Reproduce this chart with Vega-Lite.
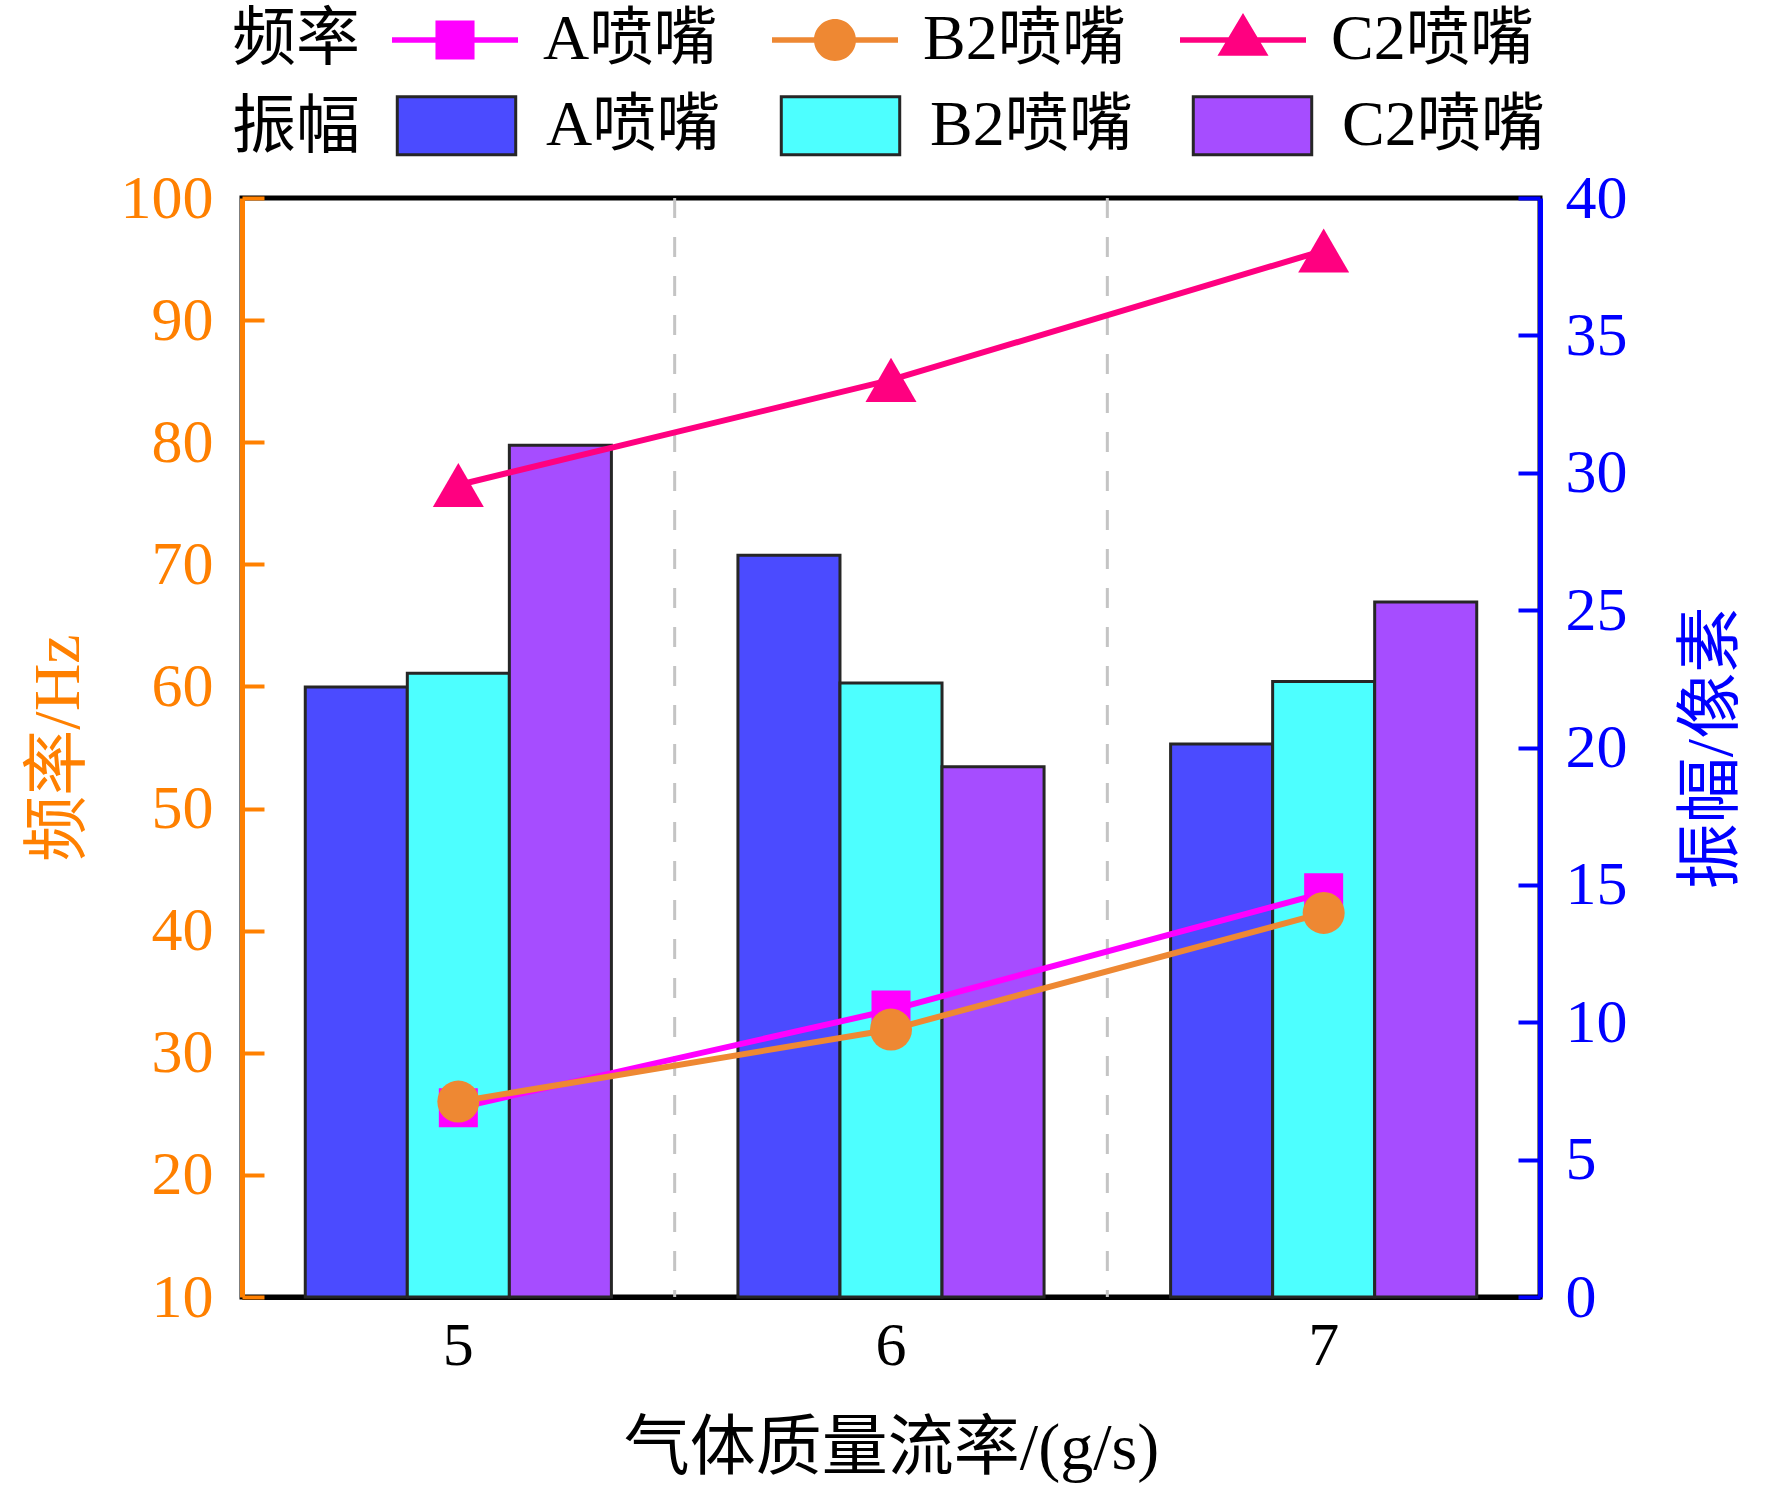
{
  "$schema": "https://vega.github.io/schema/vega-lite/v6.json",
  "width": 1298,
  "height": 1099,
  "autosize": {"type": "none"},
  "padding": {"left": 242, "top": 198, "right": 232, "bottom": 194},
  "background": "#ffffff",
  "config": {
    "font": "Liberation Serif, Noto Sans CJK SC",
    "view": {"stroke": "#000000", "strokeWidth": 5},
    "axis": {
      "grid": false,
      "zindex": 1,
      "labelFont": "Liberation Serif, Noto Sans CJK SC",
      "titleFont": "Liberation Serif, Noto Sans CJK SC",
      "labelFontSize": 62,
      "titleFontSize": 66,
      "titleFontWeight": "normal",
      "domainWidth": 5,
      "tickWidth": 4,
      "labelFlush": false,
      "labelOverlap": false
    },
    "legend": {
      "labelFont": "Liberation Serif, Noto Sans CJK SC",
      "titleFont": "Liberation Serif, Noto Sans CJK SC",
      "labelFontSize": 64,
      "titleFontSize": 64,
      "titleFontWeight": "normal",
      "labelColor": "#000000",
      "titleColor": "#000000",
      "padding": 0,
      "labelLimit": 0,
      "titleLimit": 0
    }
  },
  "datasets": {
    "bounds": [{"x": "6"}, {"x": "7"}],
    "bars": [
      {"x": "5", "s": "A喷嘴", "amp": 22.2},
      {"x": "5", "s": "B2喷嘴", "amp": 22.7},
      {"x": "5", "s": "C2喷嘴", "amp": 31.0},
      {"x": "6", "s": "A喷嘴", "amp": 27.0},
      {"x": "6", "s": "B2喷嘴", "amp": 22.35},
      {"x": "6", "s": "C2喷嘴", "amp": 19.3},
      {"x": "7", "s": "A喷嘴", "amp": 20.13},
      {"x": "7", "s": "B2喷嘴", "amp": 22.4},
      {"x": "7", "s": "C2喷嘴", "amp": 25.3}
    ],
    "freq": [
      {"x": "5", "s": "A喷嘴", "freq": 25.5},
      {"x": "6", "s": "A喷嘴", "freq": 33.5},
      {"x": "7", "s": "A喷嘴", "freq": 43.1},
      {"x": "5", "s": "B2喷嘴", "freq": 26.0},
      {"x": "6", "s": "B2喷嘴", "freq": 31.9},
      {"x": "7", "s": "B2喷嘴", "freq": 41.45},
      {"x": "5", "s": "C2喷嘴", "freq": 76.5},
      {"x": "6", "s": "C2喷嘴", "freq": 85.1},
      {"x": "7", "s": "C2喷嘴", "freq": 95.7}
    ]
  },
  "layer": [
    {
      "data": {"name": "bounds"},
      "mark": {"type": "rule", "color": "#C4C4C4", "strokeWidth": 3, "strokeDash": [20, 19]},
      "encoding": {
        "x": {
          "field": "x",
          "type": "ordinal",
          "bandPosition": 0,
          "scale": {"domain": ["5", "6", "7"], "paddingInner": 0, "paddingOuter": 0},
          "axis": {
            "title": "气体质量流率/(g/s)",
            "labelAngle": 0,
            "tickSize": -21,
            "tickWidth": 3,
            "labelPadding": 39,
            "titlePadding": 40,
            "domainColor": "#000000",
            "tickColor": "#000000",
            "labelColor": "#000000",
            "titleColor": "#000000"
          }
        }
      }
    },
    {
      "data": {"name": "bars"},
      "mark": {"type": "bar", "stroke": "#262626", "strokeWidth": 3},
      "encoding": {
        "x": {
          "field": "x",
          "type": "ordinal",
          "scale": {"domain": ["5", "6", "7"], "paddingInner": 0, "paddingOuter": 0},
          "axis": {
            "title": "气体质量流率/(g/s)",
            "labelAngle": 0,
            "tickSize": -21,
            "tickWidth": 3,
            "labelPadding": 39,
            "titlePadding": 40,
            "domainColor": "#000000",
            "tickColor": "#000000",
            "labelColor": "#000000",
            "titleColor": "#000000"
          }
        },
        "xOffset": {"field": "s", "type": "nominal", "scale": {"paddingInner": 0, "paddingOuter": 0.62}},
        "y": {
          "field": "amp",
          "type": "quantitative",
          "scale": {"domain": [0, 40], "nice": false},
          "axis": {
            "orient": "right",
            "values": [0, 5, 10, 15, 20, 25, 30, 35, 40],
            "title": "振幅/像素",
            "titleAngle": 270,
            "titleBaseline": "top",
            "titleColor": "#0000FF",
            "labelColor": "#0000FF",
            "domainColor": "#0000FF",
            "tickColor": "#0000FF",
            "tickSize": -22,
            "labelPadding": 47,
            "titlePadding": 52
          }
        },
        "fill": {
          "field": "s",
          "type": "nominal",
          "scale": {"range": ["#4B4BFF", "#4DFFFF", "#A64DFF"]},
          "legend": {
            "title": "振幅",
            "orient": "none",
            "legendX": -10,
            "legendY": -137,
            "direction": "horizontal",
            "columns": 3,
            "titleOrient": "left",
            "titleAnchor": "middle",
            "titleBaseline": "middle",
            "titlePadding": 32,
            "symbolType": "M-0.94,-0.46H0.94V0.46H-0.94Z M0,-1H0 M0,1H0",
            "symbolSize": 15876,
            "symbolStrokeColor": "#262626",
            "symbolStrokeWidth": 3,
            "symbolOpacity": 1,
            "labelOffset": 25,
            "columnPadding": 54
          }
        }
      }
    },
    {
      "data": {"name": "freq"},
      "encoding": {
        "x": {
          "field": "x",
          "type": "ordinal",
          "axis": {
            "title": "气体质量流率/(g/s)",
            "labelAngle": 0,
            "tickSize": -21,
            "tickWidth": 3,
            "labelPadding": 39,
            "titlePadding": 40,
            "domainColor": "#000000",
            "tickColor": "#000000",
            "labelColor": "#000000",
            "titleColor": "#000000"
          }
        },
        "y": {
          "field": "freq",
          "type": "quantitative",
          "scale": {"domain": [10, 100], "nice": false},
          "axis": {
            "orient": "left",
            "values": [10, 20, 30, 40, 50, 60, 70, 80, 90, 100],
            "title": "频率/Hz",
            "titleColor": "#FF8000",
            "labelColor": "#FF8000",
            "domainColor": "#FF8000",
            "tickColor": "#FF8000",
            "tickSize": -22,
            "labelPadding": 51,
            "titlePadding": 28
          }
        }
      },
      "layer": [
        {
          "transform": [{"filter": "datum.s === 'A喷嘴'"}],
          "mark": {"type": "line", "color": "#FF00FF", "strokeWidth": 6, "point": {"shape": "square", "size": 1521, "filled": true, "color": "#FF00FF", "opacity": 1}}
        },
        {
          "transform": [{"filter": "datum.s === 'B2喷嘴'"}],
          "mark": {"type": "line", "color": "#EE8833", "strokeWidth": 6, "point": {"shape": "circle", "size": 1764, "filled": true, "color": "#EE8833", "opacity": 1}}
        },
        {
          "transform": [{"filter": "datum.s === 'C2喷嘴'"}],
          "mark": {"type": "line", "color": "#FF0080", "strokeWidth": 6, "point": {"shape": "triangle-up", "size": 2601, "filled": true, "color": "#FF0080", "opacity": 1}}
        },
        {
          "mark": {"type": "point", "filled": true, "opacity": 0},
          "encoding": {
            "color": {
              "field": "s",
              "type": "nominal",
              "scale": {"domain": ["A喷嘴", "B2喷嘴", "C2喷嘴"], "range": ["#FF00FF", "#EE8833", "#FF0080"]},
              "legend": {
                "title": "频率",
                "orient": "none",
                "legendX": -10,
                "legendY": -221,
                "direction": "horizontal",
                "columns": 3,
                "titleOrient": "left",
                "titleAnchor": "middle",
                "titleBaseline": "middle",
                "titlePadding": 32,
                "symbolSize": 15876,
                "symbolStrokeWidth": 0,
                "symbolOpacity": 1,
                "labelOffset": 25,
                "columnPadding": 54
              }
            },
            "shape": {
              "field": "s",
              "type": "nominal",
              "scale": {
                "domain": ["A喷嘴", "B2喷嘴", "C2喷嘴"],
                "range": [
                  "M-1,-0.045H-0.31V-0.31H0.31V-0.045H1V0.045H0.31V0.31H-0.31V0.045H-1Z M0,-1H0 M0,1H0",
                  "M-1,-0.045H1V0.045H-1Z M0.333,0A0.333,0.333 0 1 1 -0.333,0A0.333,0.333 0 1 1 0.333,0Z M0,-1H0 M0,1H0",
                  "M-1,-0.045H1V0.045H-1Z M0,-0.43L0.405,0.25L-0.405,0.25Z M0,-1H0 M0,1H0"
                ]
              },
              "legend": {
                "title": "频率",
                "orient": "none",
                "legendX": -10,
                "legendY": -221,
                "direction": "horizontal",
                "columns": 3,
                "titleOrient": "left",
                "titleAnchor": "middle",
                "titleBaseline": "middle",
                "titlePadding": 32,
                "symbolSize": 15876,
                "symbolStrokeWidth": 0,
                "symbolOpacity": 1,
                "labelOffset": 25,
                "columnPadding": 54
              }
            }
          }
        }
      ]
    }
  ],
  "resolve": {"scale": {"y": "independent"}}
}
